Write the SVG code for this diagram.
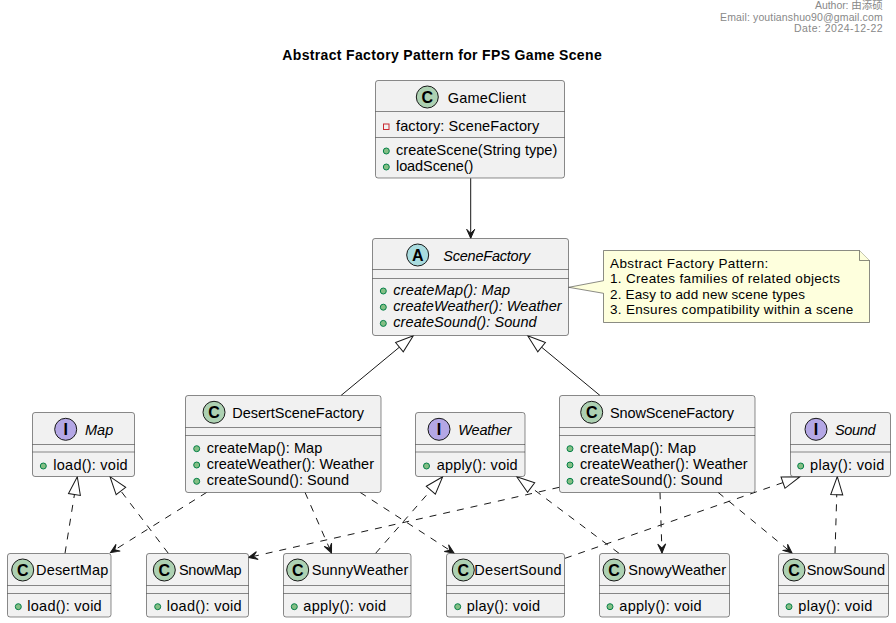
<svg xmlns="http://www.w3.org/2000/svg" width="896" height="623" viewBox="0 0 896 623">
<style>
.box{fill:#F1F1F1;stroke:#181818;stroke-width:0.5}
.sep{stroke:#181818;stroke-width:0.5}
.t{font-family:"Liberation Sans",Arial,sans-serif;font-size:14.5px;fill:#000000}
.it{font-style:italic}
.pub{fill:#84BE84;stroke:#038048;stroke-width:1}
.priv{fill:none;stroke:#C82930;stroke-width:1}
.cir{stroke:#181818;stroke-width:1}
.cC{fill:#ADD1B2}
.cA{fill:#A9DCDF}
.cI{fill:#B4A7E5}
.lt{font-family:"Liberation Sans",Arial,sans-serif;font-weight:bold;font-size:16px;text-anchor:middle;fill:#000000}
.edge{stroke:#181818;stroke-width:1;fill:none}
.dash{stroke-dasharray:7,7}
.hdr{font-family:"Liberation Sans","Noto Sans CJK SC",sans-serif;font-size:10.5px;fill:#888888}
.title{font-family:"Liberation Sans",Arial,sans-serif;font-size:14px;font-weight:bold;fill:#000000}
.note{fill:#FEFFDD;stroke:#181818;stroke-width:0.5}
.nt{font-family:"Liberation Sans",Arial,sans-serif;font-size:13.5px;fill:#000000}
</style>
<defs>
<marker id="tri" markerUnits="userSpaceOnUse" refX="18" refY="6" markerWidth="19" markerHeight="13" orient="auto" overflow="visible"><path d="M0,0 L18,6 L0,12 Z" fill="#FFFFFF" stroke="#181818" stroke-width="1"/></marker>
<marker id="arr" markerUnits="userSpaceOnUse" refX="9" refY="4" markerWidth="10" markerHeight="9" orient="auto" overflow="visible"><path d="M0,0 L9,4 L0,8 L4,4 Z" fill="#181818" stroke="#181818" stroke-width="1" stroke-linejoin="miter"/></marker>
</defs>
<rect width="896" height="623" fill="#FFFFFF"/>
<g id="header">
<text class="hdr" x="815" y="9" textLength="67.7" lengthAdjust="spacing">Author: 由添硕</text>
<text class="hdr" x="720" y="20.5" textLength="162.7" lengthAdjust="spacing">Email: youtianshuo90@gmail.com</text>
<text class="hdr" x="794" y="32.3" textLength="88.7" lengthAdjust="spacing">Date: 2024-12-22</text>
</g>
<text class="title" x="282.3" y="59.5" textLength="319.4" lengthAdjust="spacing">Abstract Factory Pattern for FPS Game Scene</text>

<g id="edges">
<path class="edge" d="M470.7,178.3 L470.7,238.3" marker-end="url(#arr)"/>
<path class="edge" d="M341,395.5 L413.3,335.7" marker-end="url(#tri)"/>
<path class="edge" d="M600,395.5 L527.7,335.7" marker-end="url(#tri)"/>
<path class="edge dash" d="M65,553.3 L77.3,476.7" marker-end="url(#tri)"/>
<path class="edge dash" d="M168.3,553.3 L110,476.7" marker-end="url(#tri)"/>
<path class="edge dash" d="M375.6,553.3 L442.7,476.7" marker-end="url(#tri)"/>
<path class="edge dash" d="M619,553.3 L516.7,476.7" marker-end="url(#tri)"/>
<path class="edge dash" d="M565,558.3 L800,476.7" marker-end="url(#tri)"/>
<path class="edge dash" d="M835,553.3 L837.3,476.7" marker-end="url(#tri)"/>
<path class="edge dash" d="M206.8,492.3 L110.5,552.5" marker-end="url(#arr)"/>
<path class="edge dash" d="M305,492.3 L331.5,553" marker-end="url(#arr)"/>
<path class="edge dash" d="M360,492.3 L454,553" marker-end="url(#arr)"/>
<path class="edge dash" d="M559.3,487.3 L248.5,557.5" marker-end="url(#arr)"/>
<path class="edge dash" d="M660,492.3 L662,553" marker-end="url(#arr)"/>
<path class="edge dash" d="M718,492.3 L792,553" marker-end="url(#arr)"/>
</g>

<g id="GameClient">
<rect class="box" x="375.5" y="80.5" width="189" height="97.5" rx="2.5"/>
<line class="sep" x1="375.5" y1="111.5" x2="564.5" y2="111.5"/>
<line class="sep" x1="375.5" y1="137.5" x2="564.5" y2="137.5"/>
<circle class="cir cC" cx="427.3" cy="97" r="11"/>
<text class="lt" x="427.3" y="102.7">C</text>
<text class="t" x="447.7" y="102.5" textLength="78.3" lengthAdjust="spacing">GameClient</text>
<rect class="priv" x="383.5" y="124" width="5.5" height="5.5"/>
<text class="t" x="396" y="130.7" textLength="143.3" lengthAdjust="spacing">factory: SceneFactory</text>
<circle class="pub" cx="386.3" cy="151" r="3"/>
<text class="t" x="396" y="155" textLength="161.3" lengthAdjust="spacing">createScene(String type)</text>
<circle class="pub" cx="386.3" cy="167" r="3"/>
<text class="t" x="396" y="171" textLength="77.3" lengthAdjust="spacing">loadScene()</text>
</g>

<g id="SceneFactory">
<rect class="box" x="372.5" y="238.5" width="196" height="97" rx="2.5"/>
<line class="sep" x1="372.5" y1="269.5" x2="568.5" y2="269.5"/>
<line class="sep" x1="372.5" y1="278.5" x2="568.5" y2="278.5"/>
<circle class="cir cA" cx="417.7" cy="255" r="11"/>
<text class="lt" x="417.7" y="260.7">A</text>
<text class="t it" x="443.3" y="260.5" textLength="87" lengthAdjust="spacing">SceneFactory</text>
<circle class="pub" cx="383.3" cy="291" r="3"/>
<text class="t it" x="393.3" y="295" textLength="116.7" lengthAdjust="spacing">createMap(): Map</text>
<circle class="pub" cx="383.3" cy="307.2" r="3"/>
<text class="t it" x="393.3" y="311.2" textLength="168.4" lengthAdjust="spacing">createWeather(): Weather</text>
<circle class="pub" cx="383.3" cy="323.4" r="3"/>
<text class="t it" x="393.3" y="327.4" textLength="143.4" lengthAdjust="spacing">createSound(): Sound</text>
</g>

<g id="note">
<path class="note" d="M603.5,250.5 L859.5,250.5 L869.5,260.5 L869.5,322.5 L603.5,322.5 L603.5,293.3 L568.7,287.3 L603.5,280.7 Z"/>
<path class="note" d="M859.5,250.5 L859.5,260.5 L869.5,260.5"/>
<text class="nt" x="610" y="267.5" textLength="158.3" lengthAdjust="spacing">Abstract Factory Pattern:</text>
<text class="nt" x="610" y="283" textLength="230" lengthAdjust="spacing">1. Creates families of related objects</text>
<text class="nt" x="610" y="298.5" textLength="195" lengthAdjust="spacing">2. Easy to add new scene types</text>
<text class="nt" x="610" y="314" textLength="243.3" lengthAdjust="spacing">3. Ensures compatibility within a scene</text>
</g>

<g id="Map">
<rect class="box" x="32.5" y="412.5" width="102" height="64" rx="2.5"/>
<line class="sep" x1="32.5" y1="444.5" x2="134.5" y2="444.5"/>
<line class="sep" x1="32.5" y1="452" x2="134.5" y2="452"/>
<circle class="cir cI" cx="65.7" cy="429.3" r="11"/>
<text class="lt" x="65.7" y="435">I</text>
<text class="t it" x="85" y="434.5" textLength="28.3" lengthAdjust="spacing">Map</text>
<circle class="pub" cx="43.3" cy="466" r="3"/>
<text class="t" x="53.3" y="470" textLength="74.4" lengthAdjust="spacing">load(): void</text>
</g>

<g id="DesertSceneFactory">
<rect class="box" x="185.5" y="395.5" width="195.5" height="97" rx="2.5"/>
<line class="sep" x1="185.5" y1="427.5" x2="381" y2="427.5"/>
<line class="sep" x1="185.5" y1="435.5" x2="381" y2="435.5"/>
<circle class="cir cC" cx="214" cy="412.3" r="11"/>
<text class="lt" x="214" y="418">C</text>
<text class="t" x="232.3" y="417.5" textLength="131.7" lengthAdjust="spacing">DesertSceneFactory</text>
<circle class="pub" cx="196.7" cy="448.7" r="3"/>
<text class="t" x="206.7" y="452.7" textLength="115.6" lengthAdjust="spacing">createMap(): Map</text>
<circle class="pub" cx="196.7" cy="465" r="3"/>
<text class="t" x="206.7" y="469" textLength="167.3" lengthAdjust="spacing">createWeather(): Weather</text>
<circle class="pub" cx="196.7" cy="481.3" r="3"/>
<text class="t" x="206.7" y="485.3" textLength="142.3" lengthAdjust="spacing">createSound(): Sound</text>
</g>

<g id="Weather">
<rect class="box" x="415.5" y="412.5" width="109.5" height="64" rx="2.5"/>
<line class="sep" x1="415.5" y1="444.5" x2="525" y2="444.5"/>
<line class="sep" x1="415.5" y1="452" x2="525" y2="452"/>
<circle class="cir cI" cx="439" cy="429.3" r="11"/>
<text class="lt" x="439" y="435">I</text>
<text class="t it" x="458.3" y="434.5" textLength="53.4" lengthAdjust="spacing">Weather</text>
<circle class="pub" cx="426.5" cy="466" r="3"/>
<text class="t" x="436.7" y="470" textLength="81" lengthAdjust="spacing">apply(): void</text>
</g>

<g id="SnowSceneFactory">
<rect class="box" x="559.5" y="395.5" width="195.5" height="97" rx="2.5"/>
<line class="sep" x1="559.5" y1="427.5" x2="755" y2="427.5"/>
<line class="sep" x1="559.5" y1="435.5" x2="755" y2="435.5"/>
<circle class="cir cC" cx="591.7" cy="412.3" r="11"/>
<text class="lt" x="591.7" y="418">C</text>
<text class="t" x="610" y="417.5" textLength="124" lengthAdjust="spacing">SnowSceneFactory</text>
<circle class="pub" cx="570" cy="448.7" r="3"/>
<text class="t" x="580" y="452.7" textLength="116" lengthAdjust="spacing">createMap(): Map</text>
<circle class="pub" cx="570" cy="465" r="3"/>
<text class="t" x="580" y="469" textLength="167.7" lengthAdjust="spacing">createWeather(): Weather</text>
<circle class="pub" cx="570" cy="481.3" r="3"/>
<text class="t" x="580" y="485.3" textLength="142.7" lengthAdjust="spacing">createSound(): Sound</text>
</g>

<g id="Sound">
<rect class="box" x="790.5" y="412.5" width="100" height="64" rx="2.5"/>
<line class="sep" x1="790.5" y1="444.5" x2="890.5" y2="444.5"/>
<line class="sep" x1="790.5" y1="452" x2="890.5" y2="452"/>
<circle class="cir cI" cx="816" cy="429.3" r="11"/>
<text class="lt" x="816" y="435">I</text>
<text class="t it" x="835" y="434.5" textLength="40.7" lengthAdjust="spacing">Sound</text>
<circle class="pub" cx="800.7" cy="466" r="3"/>
<text class="t" x="810" y="470" textLength="74.3" lengthAdjust="spacing">play(): void</text>
</g>

<g id="DesertMap">
<rect class="box" x="7.5" y="553.5" width="103.5" height="63.5" rx="2.5"/>
<line class="sep" x1="7.5" y1="585.5" x2="111" y2="585.5"/>
<line class="sep" x1="7.5" y1="593.5" x2="111" y2="593.5"/>
<circle class="cir cC" cx="22.7" cy="570" r="11"/>
<text class="lt" x="22.7" y="575.7">C</text>
<text class="t" x="36" y="575.3" textLength="72.3" lengthAdjust="spacing">DesertMap</text>
<circle class="pub" cx="18.3" cy="606.7" r="3"/>
<text class="t" x="27.3" y="610.7" textLength="74.4" lengthAdjust="spacing">load(): void</text>
</g>

<g id="SnowMap">
<rect class="box" x="146.5" y="553.5" width="102" height="63.5" rx="2.5"/>
<line class="sep" x1="146.5" y1="585.5" x2="248.5" y2="585.5"/>
<line class="sep" x1="146.5" y1="593.5" x2="248.5" y2="593.5"/>
<circle class="cir cC" cx="164.3" cy="570" r="11"/>
<text class="lt" x="164.3" y="575.7">C</text>
<text class="t" x="179" y="575.3" textLength="62.7" lengthAdjust="spacing">SnowMap</text>
<circle class="pub" cx="157.7" cy="606.7" r="3"/>
<text class="t" x="166.7" y="610.7" textLength="75" lengthAdjust="spacing">load(): void</text>
</g>

<g id="SunnyWeather">
<rect class="box" x="283.5" y="553.5" width="127.5" height="63.5" rx="2.5"/>
<line class="sep" x1="283.5" y1="585.5" x2="411" y2="585.5"/>
<line class="sep" x1="283.5" y1="593.5" x2="411" y2="593.5"/>
<circle class="cir cC" cx="297.7" cy="570" r="11"/>
<text class="lt" x="297.7" y="575.7">C</text>
<text class="t" x="311.7" y="575.3" textLength="96.6" lengthAdjust="spacing">SunnyWeather</text>
<circle class="pub" cx="294.3" cy="606.7" r="3"/>
<text class="t" x="303.3" y="610.7" textLength="82.7" lengthAdjust="spacing">apply(): void</text>
</g>

<g id="DesertSound">
<rect class="box" x="446.5" y="553.5" width="118" height="63.5" rx="2.5"/>
<line class="sep" x1="446.5" y1="585.5" x2="564.5" y2="585.5"/>
<line class="sep" x1="446.5" y1="593.5" x2="564.5" y2="593.5"/>
<circle class="cir cC" cx="463.3" cy="570" r="11"/>
<text class="lt" x="463.3" y="575.7">C</text>
<text class="t" x="474.3" y="575.3" textLength="87.4" lengthAdjust="spacing">DesertSound</text>
<circle class="pub" cx="457.7" cy="606.7" r="3"/>
<text class="t" x="466.7" y="610.7" textLength="73.3" lengthAdjust="spacing">play(): void</text>
</g>

<g id="SnowyWeather">
<rect class="box" x="599.5" y="553.5" width="130" height="63.5" rx="2.5"/>
<line class="sep" x1="599.5" y1="585.5" x2="729.5" y2="585.5"/>
<line class="sep" x1="599.5" y1="593.5" x2="729.5" y2="593.5"/>
<circle class="cir cC" cx="614" cy="570" r="11"/>
<text class="lt" x="614" y="575.7">C</text>
<text class="t" x="628.3" y="575.3" textLength="97.7" lengthAdjust="spacing">SnowyWeather</text>
<circle class="pub" cx="610" cy="606.7" r="3"/>
<text class="t" x="619.3" y="610.7" textLength="82.4" lengthAdjust="spacing">apply(): void</text>
</g>

<g id="SnowSound">
<rect class="box" x="778.5" y="553.5" width="110" height="63.5" rx="2.5"/>
<line class="sep" x1="778.5" y1="585.5" x2="888.5" y2="585.5"/>
<line class="sep" x1="778.5" y1="593.5" x2="888.5" y2="593.5"/>
<circle class="cir cC" cx="794" cy="570" r="11"/>
<text class="lt" x="794" y="575.7">C</text>
<text class="t" x="806.7" y="575.3" textLength="78.3" lengthAdjust="spacing">SnowSound</text>
<circle class="pub" cx="789" cy="606.7" r="3"/>
<text class="t" x="798.3" y="610.7" textLength="74" lengthAdjust="spacing">play(): void</text>
</g>
</svg>
